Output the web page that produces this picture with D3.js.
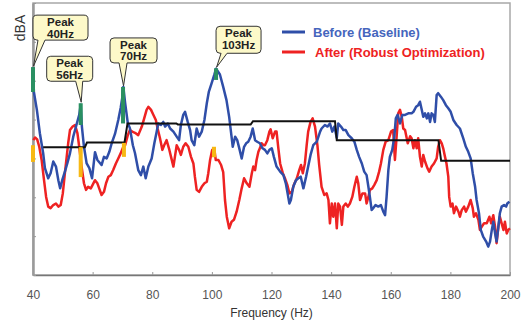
<!DOCTYPE html>
<html>
<head>
<meta charset="utf-8">
<script src="https://cdn.jsdelivr.net/npm/d3@7"></script>
<style>
  body { margin: 0; background: #fff; }
  svg { display: block; font-family: "Liberation Sans", Arial, sans-serif; }
</style>
</head>
<body>
<svg id="chart" width="532" height="326"></svg>
<script>
// frequency (Hz), level (dBA)
const before = [
  [40,73.5],[40.3,67.1],[41.3,62.5],[42.3,56.5],[43.4,51.4],[44.0,47.5],[45.1,44.9],[45.9,46.2],
  [46.8,49.2],[47.7,47.9],[48.5,44.4],[49.1,42.3],[49.8,44.4],[50.7,46.6],[51.5,48.7],[52.4,51.3],
  [53.5,55.6],[54.7,59.0],[55.5,61.2],[56.0,63.8],[56.4,58.2],[57.1,53.0],[58.0,48.7],[58.9,47.5],
  [59.8,44.9],[60.8,51.6],[61.6,49.6],[63.0,48.3],[63.8,50.4],[64.7,50.0],[65.6,51.7],[66.4,53.9],
  [67.5,56.3],[68.6,59.9],[69.4,63.0],[70.0,65.9],[70.3,68.4],[70.9,64.3],[71.8,59.1],[72.5,57.8],
  [73.5,53.4],[74.2,51.4],[75.3,47.0],[76.2,45.7],[77.0,47.9],[77.8,44.9],[78.7,47.9],[79.8,50.0],
  [80.7,53.9],[81.5,56.9],[82.0,59.0],[82.9,58.6],[83.7,59.4],[84.3,58.2],[85.2,59.0],[86.0,57.7],
  [87.1,56.9],[88.2,55.6],[89.0,54.7],[89.6,58.6],[90.4,61.2],[91.0,62.0],[91.9,59.4],[92.7,57.3],
  [93.2,54.7],[94.1,53.4],[94.9,57.7],[95.7,55.6],[96.6,56.9],[97.5,59.9],[98.3,64.2],[99.0,67.2],
  [99.9,69.3],[100.8,71.5],[101.4,73.1],[102.7,71.6],[103.8,68.4],[104.9,65.0],[105.8,60.7],[106.6,55.6],
  [107.0,53.0],[107.8,55.6],[108.5,54.7],[109.2,52.6],[110.0,50.0],[110.8,53.0],[111.5,53.9],[112.2,54.3],
  [113.0,55.6],[113.7,57.7],[114.5,54.7],[115.2,54.3],[116.1,53.9],[117.0,52.6],[117.8,52.2],[118.6,51.3],
  [119.3,52.2],[120.1,52.6],[120.8,50.4],[121.7,47.9],[122.9,46.6],[124.0,45.7],[124.8,43.6],[125.4,41.0],
  [126.0,38.4],[126.5,39.3],[127.3,42.7],[128.2,44.4],[129.0,44.9],[129.8,45.3],[130.7,42.3],[131.6,45.3],
  [132.3,47.9],[133.1,50.9],[134.0,53.4],[135.2,54.3],[136.3,56.9],[136.8,57.7],[137.9,58.6],[138.8,58.2],
  [139.6,59.0],[140.4,56.9],[141.1,58.2],[141.9,55.3],[142.4,59.0],[143.3,58.2],[144.1,57.3],[144.9,57.3],
  [145.8,56.0],[146.9,55.2],[147.8,54.3],[148.6,52.2],[149.4,50.4],[150.3,48.7],[151.1,46.6],[151.9,45.7],
  [152.5,42.7],[153.0,40.1],[153.6,36.7],[154.1,37.2],[154.9,38.0],[155.8,37.6],[156.7,38.0],[157.5,36.3],
  [158.1,35.4],[158.6,40.1],[159.2,47.0],[159.7,50.4],[160.5,52.2],[161.2,55.6],[161.7,60.3],[162.3,61.2],
  [163.1,59.0],[163.9,61.2],[164.8,61.2],[165.9,61.6],[167.0,61.6],[167.6,62.0],[168.5,63.3],[169.2,63.7],
  [169.8,64.6],[170.4,62.5],[170.9,60.7],[171.5,61.6],[172.1,60.3],[172.6,61.6],[173.2,59.4],[173.7,61.6],
  [174.3,61.2],[174.8,59.4],[175.4,66.3],[175.9,66.8],[176.8,65.9],[177.6,65.0],[178.5,63.7],[179.3,62.9],
  [180.1,62.0],[181.0,59.9],[182.1,58.6],[183.2,57.7],[184.3,55.2],[185.2,53.0],[186.0,51.7],[186.8,50.0],
  [187.5,46.2],[188.3,42.7],[188.8,39.3],[189.6,35.9],[190.2,31.6],[191.0,29.9],[192.0,28.6],[192.7,27.3],
  [193.3,28.6],[193.9,31.6],[194.4,33.7],[195.0,30.7],[195.5,28.6],[196.1,32.4],[196.6,35.9],[197.2,37.6],
  [198.0,38.0],[198.7,37.6],[199.1,38.4],[199.8,38.9]
];

const after = [
  [40.1,54.7],[40.7,55.4],[41.4,54.9],[42.1,53.0],[42.9,49.6],[43.7,44.4],[44.4,40.1],[45.1,37.6],
  [45.9,37.2],[46.8,38.0],[47.7,38.4],[48.5,37.6],[49.3,38.0],[50.0,41.0],[50.7,46.2],[51.3,50.4],
  [51.8,53.9],[52.4,57.3],[53.3,58.2],[54.1,58.6],[54.9,56.5],[55.5,53.0],[56.3,47.9],[57.1,43.6],
  [57.8,41.9],[58.5,42.7],[59.4,42.3],[60.0,43.2],[60.8,44.4],[61.6,43.6],[62.2,42.3],[63.0,40.6],
  [63.8,41.4],[64.5,43.6],[65.3,45.3],[66.1,45.7],[66.9,47.0],[67.8,48.7],[68.6,50.0],[69.4,51.3],
  [70.3,53.0],[70.9,53.4],[71.8,56.0],[72.5,57.3],[73.3,56.9],[74.2,56.6],[75.3,56.0],[76.5,58.2],
  [77.3,60.3],[78.1,62.5],[78.7,63.3],[79.6,62.5],[80.4,61.2],[81.2,59.9],[81.8,57.7],[82.6,55.2],
  [83.4,52.2],[84.0,53.4],[84.8,54.7],[85.6,52.6],[86.3,50.4],[87.1,47.9],[87.6,50.4],[88.2,53.4],
  [89.0,52.2],[89.6,50.9],[90.4,53.0],[91.2,53.9],[92.1,53.0],[93.0,50.4],[93.8,48.7],[94.3,45.3],
  [94.9,41.9],[95.7,41.4],[96.6,42.7],[97.5,43.6],[98.3,44.0],[98.8,46.2],[99.4,49.6],[100.1,52.2],
  [100.8,52.6],[101.3,49.6],[102.2,49.6],[103.1,48.3],[103.8,46.5],[104.4,39.3],[105.0,35.0],[105.8,32.0],
  [106.6,33.7],[107.4,34.2],[108.3,36.3],[109.2,39.3],[110.0,42.3],[110.8,44.9],[111.7,43.6],[112.6,42.7],
  [113.4,46.2],[113.9,47.9],[114.5,47.0],[115.0,49.6],[115.6,51.7],[116.1,52.6],[116.7,53.9],[117.3,53.4],
  [117.8,53.4],[118.6,54.7],[119.3,56.9],[119.7,57.5],[120.4,55.2],[121.2,56.9],[121.7,56.9],[122.3,52.6],
  [122.9,48.7],[123.8,46.2],[124.5,44.9],[125.3,43.2],[126.0,41.0],[126.8,41.4],[127.5,43.2],[128.5,44.9],
  [129.3,47.0],[129.9,48.3],[130.5,46.2],[131.2,48.7],[131.8,53.4],[132.3,56.9],[133.1,59.4],[133.8,60.3],
  [134.6,58.2],[135.4,53.4],[136.0,48.3],[136.8,42.7],[137.7,40.6],[138.5,41.0],[139.1,39.3],[139.6,33.3],
  [140.2,38.4],[140.7,35.0],[141.3,38.4],[141.9,32.0],[142.4,38.4],[143.0,37.6],[143.6,32.9],[144.1,37.6],
  [144.9,38.4],[145.6,37.6],[146.3,38.4],[147.1,40.1],[147.8,42.7],[148.6,45.3],[149.1,43.6],[149.7,39.3],
  [150.5,41.0],[151.4,41.0],[151.9,38.4],[152.5,40.1],[153.0,41.9],[153.8,42.3],[154.5,43.2],[155.3,44.4],
  [156.1,46.6],[156.7,48.7],[157.5,52.2],[158.3,54.3],[159.2,54.7],[160.1,56.9],[160.8,57.3],[161.4,49.6],
  [162.0,55.9],[162.5,61.6],[163.1,62.5],[163.7,60.7],[164.2,57.7],[164.8,57.3],[165.7,53.9],[166.5,55.7],
  [167.0,55.2],[167.6,52.6],[168.1,54.7],[168.7,52.6],[169.2,55.2],[169.8,50.4],[170.4,47.9],[170.9,50.9],
  [171.5,49.2],[172.3,47.5],[172.9,46.6],[173.7,47.9],[174.5,48.7],[175.4,50.0],[175.9,53.0],[176.5,54.7],
  [177.1,53.9],[177.6,52.6],[178.2,50.4],[178.7,48.7],[179.3,45.3],[179.6,40.1],[180.1,37.6],[180.7,38.4],
  [181.2,35.9],[181.9,37.6],[182.7,36.3],[183.2,35.0],[183.8,36.7],[184.6,37.6],[185.2,36.3],[186.0,37.6],
  [186.8,39.3],[187.5,37.2],[187.9,35.0],[188.6,35.9],[189.4,34.2],[189.9,31.6],[190.5,32.4],[191.3,33.3],
  [192.2,33.3],[193.1,35.0],[193.7,33.3],[194.4,35.4],[195.0,32.4],[195.5,28.2],[196.1,32.4],[196.6,35.0],
  [197.2,33.3],[197.8,31.6],[198.3,33.7],[198.9,30.7],[199.4,31.6],[200.0,32.0]
];

// limit line (steps)
const limit = [
  [43.4,52.9],[57.4,52.9],[58.1,54.1],[70.7,54.1],[71.7,59.0],[88.1,59.0],[88.6,58.7],[113.0,58.7],
  [113.8,59.6],[141.3,59.6],[141.9,54.7],[176.0,54.7],[176.9,49.4],[200,49.4]
];

// peak markers: frequency, low, high
const peakMarks = [[40,67.1,73.5],[56,58.6,64.2],[70.2,59.0,68.4],[101.4,70.2,73.2]];
const afterMarks = [[40,49.1,53.4],[56,45.2,52.9],[70.5,50.4,54.0],[100.7,50.3,53.0]];
const peakLabels = ["40Hz", "56Hz", "70Hz", "103Hz"];

const xTicks = [40, 60, 80, 100, 120, 140, 160, 180, 200];
const yTicks = [20, 30, 40, 50, 60, 70, 80, 90];

const seriesNames = ["Before (Baseline)", "After (Robust Optimization)"];
const seriesColors = ["#2f4ea8", "#ee2222"];
const legendTextColors = ["#4565bd", "#ee2222"];

const L = 33, R = 510, T = 3, B = 275;
const svg = d3.select("#chart");

const x = d3.scaleLinear().domain([40, 200]).range([L, R]);
const y = d3.scaleLinear().domain([20, 90]).range([B, T]);

// frame
svg.append("rect")
  .attr("x", L).attr("y", T).attr("width", R - L).attr("height", B - T)
  .attr("fill", "none").attr("stroke", "#a8a8a8").attr("stroke-width", 1.5);

// x axis
const xAxis = svg.append("g")
  .attr("transform", `translate(0,${B})`)
  .call(d3.axisBottom(x).tickValues(xTicks).tickSizeInner(-3).tickSizeOuter(0).tickPadding(15));
xAxis.select(".domain").attr("stroke", "#777").attr("stroke-width", 1.5);
xAxis.selectAll(".tick line").attr("stroke", "#999");
xAxis.selectAll(".tick text").attr("fill", "#555").style("font-size", "12px");

// y axis, no labels
const yAxis = svg.append("g")
  .attr("transform", `translate(${L},0)`)
  .call(d3.axisLeft(y).tickValues(yTicks).tickSizeInner(-3).tickSizeOuter(0).tickFormat(""));
yAxis.select(".domain").attr("stroke", "#9a9a9a").attr("stroke-width", 2.5);
yAxis.selectAll(".tick line").attr("stroke", "#999");

svg.append("text")
  .attr("transform", `translate(25,28) rotate(-90)`)
  .attr("text-anchor", "middle")
  .style("font-size", "14px").attr("fill", "#333")
  .text("dBA");

svg.append("text")
  .attr("x", (L + R) / 2).attr("y", 317)
  .attr("text-anchor", "middle")
  .style("font-size", "12px").attr("fill", "#333")
  .text("Frequency (Hz)");

const line = d3.line().x(d => x(d[0])).y(d => y(d[1]));

svg.append("path").datum(after)
  .attr("fill", "none").attr("stroke", seriesColors[1]).attr("stroke-width", 2.5)
  .attr("stroke-linejoin", "round").attr("d", line);
svg.append("path").datum(before)
  .attr("fill", "none").attr("stroke", seriesColors[0]).attr("stroke-width", 2.5)
  .attr("stroke-linejoin", "round").attr("d", line);

svg.append("path").datum(limit)
  .attr("fill", "none").attr("stroke", "#111").attr("stroke-width", 2)
  .attr("d", line);

// markers
svg.selectAll(".pk").data(peakMarks).join("rect")
  .attr("x", d => x(d[0]) - 2).attr("width", 4)
  .attr("y", d => y(d[2])).attr("height", d => y(d[1]) - y(d[2]))
  .attr("fill", "#2a9062");
svg.selectAll(".am").data(afterMarks).join("rect")
  .attr("x", d => x(d[0]) - 2).attr("width", 4)
  .attr("y", d => y(d[2])).attr("height", d => y(d[1]) - y(d[2]))
  .attr("fill", "#f7b814");

// callouts: box offsets relative to the top of each peak marker
const boxLayout = [
  { dx: 0, dy: -52, w: 55, h: 25, t1: 5, t2: 12 },
  { dx: -34, dy: -47, w: 46, h: 25, t1: -5, t2: 2 },
  { dx: -13, dy: -49, w: 47, h: 25, t1: -4, t2: 4 },
  { dx: 0, dy: -42, w: 45, h: 27, t1: 5, t2: 11 }
];

function bubble(x0, y0, w, h, r, t1, t2, px, py) {
  return `M${x0 + r},${y0} H${x0 + w - r} Q${x0 + w},${y0} ${x0 + w},${y0 + r}` +
    ` V${y0 + h - r} Q${x0 + w},${y0 + h} ${x0 + w - r},${y0 + h}` +
    ` H${t2} L${px},${py} L${t1},${y0 + h}` +
    ` H${x0 + r} Q${x0},${y0 + h} ${x0},${y0 + h - r} V${y0 + r} Q${x0},${y0} ${x0 + r},${y0} Z`;
}

peakMarks.forEach((d, i) => {
  const ax = x(d[0]), ay = y(d[2]);
  const b = boxLayout[i];
  const x0 = ax + b.dx, y0 = ay + b.dy;
  const g = svg.append("g");
  g.append("path")
    .attr("d", bubble(x0, y0, b.w, b.h, 4, ax + b.t1, ax + b.t2, ax + 0.5, ay - 1))
    .attr("fill", "#fdf9c9").attr("stroke", "#333").attr("stroke-width", 1);
  g.append("text")
    .attr("x", x0 + b.w / 2).attr("y", y0 + 11)
    .attr("text-anchor", "middle")
    .style("font-size", "11.5px").style("font-weight", "bold").attr("fill", "#222")
    .text("Peak");
  g.append("text")
    .attr("x", x0 + b.w / 2).attr("y", y0 + 22.5)
    .attr("text-anchor", "middle")
    .style("font-size", "11.5px").style("font-weight", "bold").attr("fill", "#222")
    .text(peakLabels[i]);
});

// legend
const legend = svg.append("g").attr("transform", "translate(282,32)");
seriesNames.forEach((name, i) => {
  legend.append("line")
    .attr("x1", 0).attr("x2", 23).attr("y1", i * 20).attr("y2", i * 20)
    .attr("stroke", seriesColors[i]).attr("stroke-width", 3);
  legend.append("text")
    .attr("x", 31 + i * 2).attr("y", i * 20 + 4.5)
    .style("font-size", "13px").style("font-weight", "bold")
    .attr("fill", legendTextColors[i])
    .text(name);
});
</script>
</body>
</html>
